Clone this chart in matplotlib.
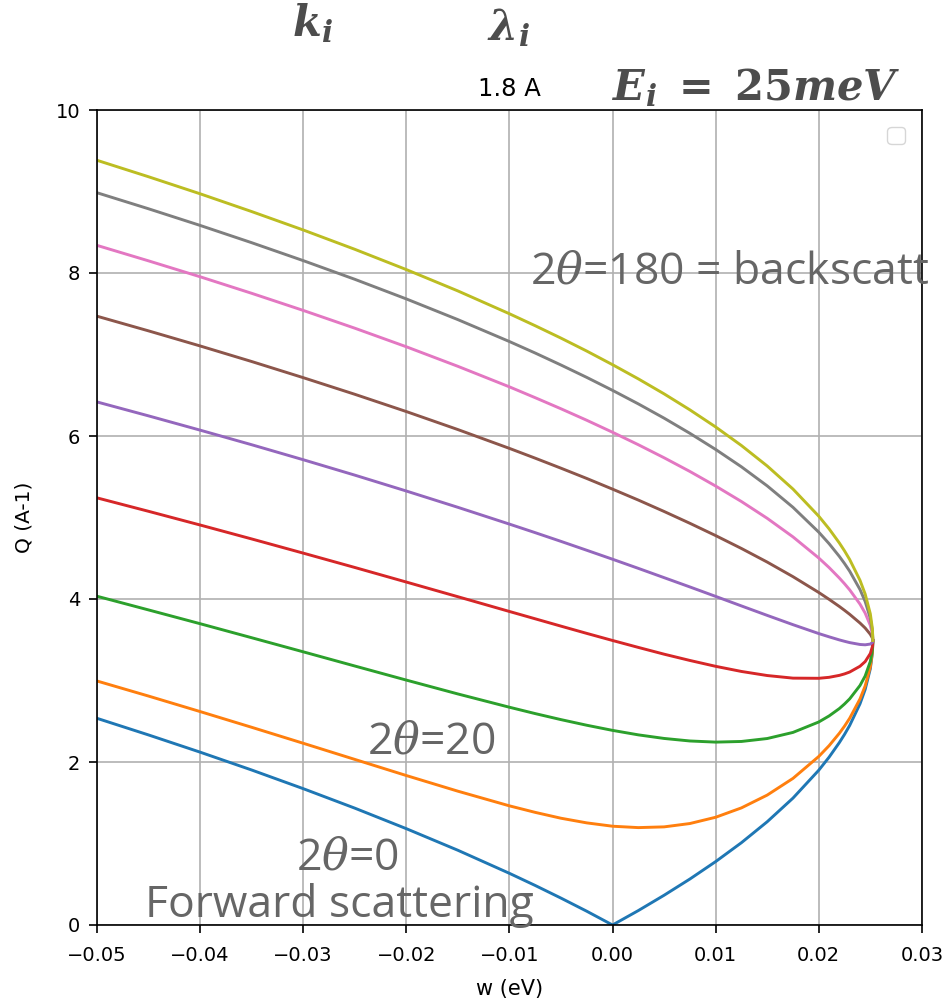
import matplotlib
matplotlib.use("Agg")
import matplotlib.pyplot as plt

# energy transfer grid (eV)
w = [-0.050, -0.045, -0.040, -0.035, -0.030, -0.025, -0.020, -0.015, -0.010,
     -0.0075, -0.005, -0.0025, 0.000, 0.0025, 0.005, 0.0075, 0.010, 0.0125,
     0.015, 0.0175, 0.020, 0.021, 0.022, 0.0225, 0.023, 0.024, 0.0245, 0.025,
     0.0252, 0.02525]

# scattering angles 2theta (deg)
angles = [0, 20, 40, 60, 80, 100, 120, 140, 160]

# Q values (A^-1) read for each angle
q_0 = [2.536, 2.332, 2.121, 1.902, 1.673, 1.434, 1.182, 0.917, 0.634, 0.485,
       0.330, 0.169, 0.000, 0.177, 0.365, 0.564, 0.778, 1.010, 1.267, 1.557,
       1.899, 2.059, 2.239, 2.339, 2.449, 2.714, 2.890, 3.144, 3.337, 3.491]
q_20 = [2.994, 2.809, 2.619, 2.426, 2.230, 2.032, 1.834, 1.642, 1.462, 1.382,
        1.310, 1.253, 1.212, 1.195, 1.204, 1.245, 1.322, 1.437, 1.594, 1.799,
        2.068, 2.200, 2.353, 2.440, 2.537, 2.774, 2.933, 3.167, 3.347, 3.491]
q_40 = [4.034, 3.866, 3.697, 3.525, 3.352, 3.178, 3.005, 2.835, 2.672, 2.594,
        2.520, 2.451, 2.388, 2.333, 2.289, 2.258, 2.244, 2.252, 2.288, 2.363,
        2.491, 2.565, 2.656, 2.712, 2.775, 2.939, 3.055, 3.233, 3.374, 3.491]
q_60 = [5.241, 5.076, 4.908, 4.737, 4.563, 4.387, 4.208, 4.028, 3.847, 3.757,
        3.667, 3.578, 3.491, 3.406, 3.323, 3.246, 3.174, 3.111, 3.061, 3.029,
        3.027, 3.039, 3.063, 3.081, 3.104, 3.175, 3.232, 3.331, 3.416, 3.491]
q_80 = [6.418, 6.247, 6.072, 5.893, 5.709, 5.520, 5.325, 5.125, 4.919, 4.814,
        4.707, 4.598, 4.488, 4.376, 4.262, 4.148, 4.032, 3.915, 3.799, 3.685,
        3.576, 3.536, 3.498, 3.481, 3.465, 3.442, 3.438, 3.447, 3.467, 3.491]
q_100 = [7.470, 7.290, 7.105, 6.914, 6.716, 6.512, 6.300, 6.079, 5.848, 5.728,
         5.605, 5.479, 5.348, 5.214, 5.074, 4.929, 4.778, 4.620, 4.453, 4.274,
         4.080, 3.996, 3.908, 3.861, 3.812, 3.705, 3.644, 3.567, 3.521, 3.491]
q_120 = [8.339, 8.149, 7.954, 7.751, 7.541, 7.323, 7.095, 6.855, 6.603, 6.470,
         6.334, 6.193, 6.046, 5.893, 5.733, 5.565, 5.386, 5.196, 4.990, 4.762,
         4.503, 4.386, 4.257, 4.187, 4.112, 3.937, 3.827, 3.676, 3.570, 3.491]
q_140 = [8.985, 8.788, 8.584, 8.372, 8.152, 7.923, 7.682, 7.428, 7.159, 7.018,
         6.871, 6.719, 6.560, 6.394, 6.219, 6.033, 5.835, 5.622, 5.388, 5.125,
         4.820, 4.679, 4.522, 4.435, 4.341, 4.116, 3.970, 3.763, 3.610, 3.491]
q_160 = [9.383, 9.181, 8.972, 8.754, 8.528, 8.291, 8.042, 7.780, 7.500, 7.353,
         7.201, 7.042, 6.875, 6.701, 6.517, 6.321, 6.111, 5.883, 5.632, 5.349,
         5.016, 4.861, 4.687, 4.590, 4.484, 4.229, 4.061, 3.818, 3.636, 3.491]
series = [q_0, q_20, q_40, q_60, q_80, q_100, q_120, q_140, q_160]

plt.rcParams['mathtext.fontset'] = 'dejavuserif'

fig = plt.figure(figsize=(9.46, 10), dpi=100)
ax = fig.add_axes([0.1025, 0.075, 0.872, 0.815])

for q in series:
    ax.plot(w, q, lw=2.1)

ax.set_xlim(-0.05, 0.03)
ax.set_ylim(0, 10)
ax.grid(True, color='#b0b0b0', lw=1.2)
ax.tick_params(labelsize=14, length=6, width=1.2)
ax.tick_params(axis='x', pad=9)
ax.tick_params(axis='y', pad=6)
for s in ax.spines.values():
    s.set_linewidth(1.2)
ax.set_xlabel('w (eV)', fontsize=15, labelpad=10)
ax.set_ylabel('Q (A-1)', fontsize=14.5, labelpad=16)
ax.set_title('1.8 A', fontsize=17.5, pad=10)
ax.legend(handles=[], labels=[], loc='upper right', fontsize=16, borderaxespad=0.75)

gray = '#666666'
tfont = dict(color=gray, family=['Open Sans', 'DejaVu Sans'], fontsize=32)
fig.text(530 / 946, 1 - 272 / 1000, r'2$\theta$=180 = backscatt', va='center', ha='left', **tfont)
fig.text(367 / 946, 1 - 742 / 1000, r'2$\theta$=20', va='center', ha='left', **tfont)
fig.text(296 / 946, 1 - 858 / 1000, r'2$\theta$=0', va='center', ha='left', **tfont)
fig.text(145 / 946, 1 - 905 / 1000, 'Forward scattering', va='center', ha='left', **tfont)

mcol = '#4d4d4d'
fig.text(313 / 946, 1 - 24 / 1000, r'$\mathbfit{k_i}$', ha='center', va='center', fontsize=30, color=mcol)
fig.text(508 / 946, 1 - 28 / 1000, r'$\mathbfit{\lambda_i}$', ha='center', va='center', fontsize=30, color=mcol)
fig.text(612 / 946, 1 - 100 / 1000, r'$\mathbfit{E_i}\ \mathbf{=}\ \mathbf{25}\mathbfit{meV}$',
         ha='left', va='baseline', fontsize=30, color=mcol)

fig.savefig('out.png', dpi=100)
